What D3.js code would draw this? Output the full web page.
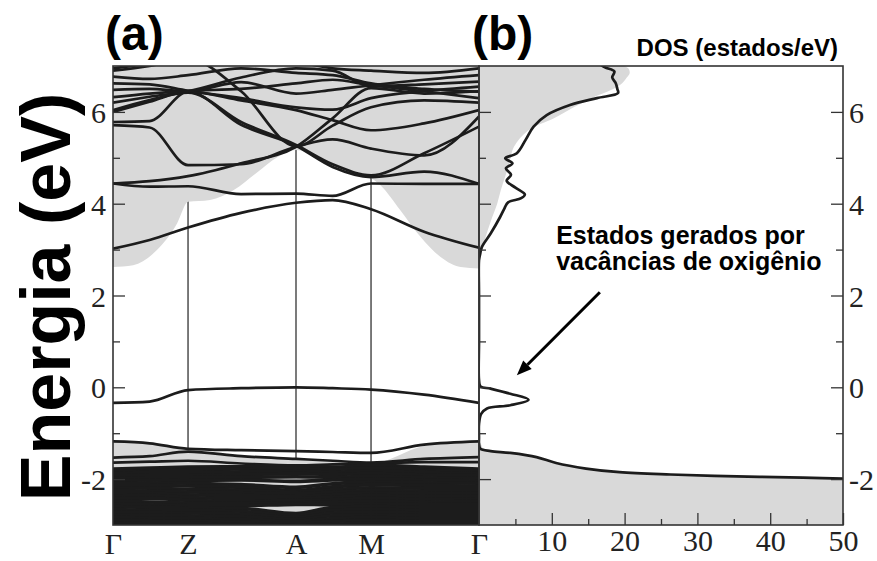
<!DOCTYPE html>
<html>
<head>
<meta charset="utf-8">
<script src="https://cdn.jsdelivr.net/npm/d3@7"></script>
<style>
  body { margin: 0; background: #fff; }
  svg { display: block; }
  .tick text { font-family: "Liberation Serif", "Times New Roman", serif; fill: #222; }
  .tick line { stroke: #333; stroke-width: 1.3; }
  .lbl { font-family: "Liberation Sans", Arial, sans-serif; font-weight: bold; fill: #000; }
</style>
</head>
<body>
<svg id="chart" width="877" height="561"></svg>
<script>
// --- band structure (a) ---
const kPoints = [0, 0.1, 0.205, 0.35, 0.5, 0.6, 0.705, 0.85, 1];
const kTicks = [0, 0.205, 0.5, 0.705, 1];
const kLabels = ["Γ", "Z", "A", "M", "Γ"];

// conduction bands, eV at kPoints
const condBands = [
  [3.02, 3.21, 3.48, 3.80, 4.02, 4.08, 3.88, 3.39, 3.04],
  [4.44, 4.37, 4.38, 4.21, 4.22, 4.17, 4.44, 4.43, 4.43],
  [4.44, 4.49, 4.60, 4.88, 5.24, 5.86, 6.52, 6.40, 6.45],
  [5.71, 5.66, 4.84, 4.86, 5.24, 5.40, 5.20, 5.05, 5.90],
  [6.00, 6.22, 6.44, 5.72, 5.26, 4.80, 4.58, 4.70, 4.43],
  [6.04, 6.26, 6.42, 5.78, 5.28, 4.86, 4.62, 5.10, 5.68],
  [5.78, 5.80, 6.44, 6.25, 6.04, 5.82, 5.60, 5.75, 6.04],
  [6.95, 7.05, 7.15, 6.45, 5.25, 5.70, 6.10, 6.25, 6.20],
  [6.20, 6.33, 6.45, 6.75, 6.95, 6.90, 6.56, 6.60, 6.66],
  [6.48, 6.50, 6.45, 6.65, 6.40, 6.48, 6.58, 6.70, 6.80],
  [6.62, 6.60, 6.46, 6.30, 6.10, 6.05, 6.30, 6.45, 6.55],
  [6.77, 6.72, 6.80, 6.95, 6.85, 6.80, 6.62, 6.50, 6.44],
  [6.90, 7.00, 7.20, 7.30, 7.10, 6.95, 6.90, 6.85, 6.95],
  [6.32, 6.40, 6.46, 6.50, 6.62, 6.70, 6.58, 6.45, 6.30]
];

// defect level in the gap
const defectBand = [-0.34, -0.31, -0.06, -0.02, 0.0, -0.02, -0.05, -0.16, -0.34];

// valence bands
const valBands = [
  [-1.18, -1.22, -1.34, -1.37, -1.39, -1.41, -1.43, -1.25, -1.18],
  [-1.53, -1.50, -1.40, -1.50, -1.56, -1.60, -1.64, -1.56, -1.52],
  [-1.64, -1.62, -1.60, -1.66, -1.70, -1.68, -1.66, -1.63, -1.63],
  [-1.78, -1.76, -1.74, -1.73, -1.72, -1.74, -1.70, -1.74, -1.78],
  [-1.83, -1.82, -1.80, -1.78, -1.77, -1.79, -1.76, -1.80, -1.83],
  [-1.88, -1.86, -1.86, -1.84, -1.82, -1.85, -1.82, -1.86, -1.88],
  [-1.93, -1.92, -1.92, -1.90, -1.88, -1.90, -1.88, -1.91, -1.93],
  [-1.98, -1.97, -1.97, -1.96, -1.95, -1.96, -1.94, -1.97, -1.98],
  [-2.04, -2.02, -2.03, -2.02, -2.05, -2.02, -2.00, -2.02, -2.04],
  [-2.09, -2.08, -2.09, -2.12, -2.18, -2.10, -2.06, -2.08, -2.09],
  [-2.14, -2.14, -2.15, -2.18, -2.25, -2.17, -2.12, -2.14, -2.15],
  [-2.19, -2.20, -2.22, -2.24, -2.28, -2.23, -2.19, -2.20, -2.20],
  [-2.25, -2.26, -2.28, -2.30, -2.32, -2.29, -2.25, -2.26, -2.26],
  [-2.31, -2.31, -2.34, -2.36, -2.37, -2.34, -2.30, -2.32, -2.31],
  [-2.37, -2.36, -2.40, -2.42, -2.42, -2.40, -2.36, -2.38, -2.37],
  [-2.43, -2.42, -2.46, -2.48, -2.47, -2.45, -2.42, -2.44, -2.43],
  [-2.48, -2.50, -2.52, -2.53, -2.52, -2.50, -2.48, -2.50, -2.49],
  [-2.54, -2.56, -2.58, -2.58, -2.55, -2.56, -2.54, -2.56, -2.55],
  [-2.60, -2.62, -2.63, -2.64, -2.75, -2.62, -2.60, -2.62, -2.62],
  [-2.66, -2.68, -2.68, -2.70, -2.80, -2.68, -2.66, -2.68, -2.68],
  [-2.72, -2.73, -2.74, -2.76, -2.84, -2.74, -2.72, -2.74, -2.74],
  [-2.78, -2.79, -2.80, -2.82, -2.88, -2.80, -2.78, -2.80, -2.80],
  [-2.84, -2.85, -2.86, -2.88, -2.92, -2.86, -2.84, -2.86, -2.86],
  [-2.90, -2.91, -2.92, -2.94, -2.96, -2.92, -2.90, -2.92, -2.92],
  [-2.96, -2.97, -2.97, -2.99, -3.00, -2.98, -2.96, -2.97, -2.97]
];

// gray projected bulk bands: lower edge of conduction, upper edge of valence
const condEdgeK = [0, 0.055, 0.12, 0.175, 0.205, 0.265, 0.33, 0.39, 0.45, 0.5, 0.6, 0.705, 0.73, 0.785, 0.84, 0.895, 0.95, 1];
const condEdgeE = [2.62, 2.66, 2.99, 3.57, 4.04, 4.08, 4.30, 4.66, 5.02, 5.17, 4.83, 4.56, 4.41, 3.86, 3.28, 2.84, 2.62, 2.59];
const valEdgeE = [-1.17, -1.22, -1.36, -1.50, -1.57, -1.62, -1.66, -1.28, -1.17];

// --- DOS (b) ---
const dosE = [7.05, 6.97, 6.88, 6.75, 6.62, 6.50, 6.41, 6.30, 6.15, 5.93, 5.68, 5.39, 5.10, 4.99, 4.88, 4.77, 4.63, 4.50, 4.35, 4.20, 4.12, 4.03, 3.90, 3.71, 3.35, 3.06, 2.90, 2.77, 2.0, 1.0, 0.16, 0.02, -0.03, -0.14, -0.27, -0.39, -0.46, -0.58, -0.80, -1.10, -1.23, -1.34, -1.39, -1.43, -1.52, -1.65, -1.77, -1.85, -1.90, -1.94, -1.97, -1.99, -2.05, -2.5, -3.05];
const dosVal = [16.5, 17.3, 18.6, 18.3, 18.8, 19.0, 19.1, 16.2, 12.5, 9.3, 7.5, 6.4, 5.2, 3.6, 4.6, 3.7, 4.4, 3.8, 5.0, 6.3, 5.8, 4.0, 3.5, 2.9, 1.6, 0.4, 0.15, 0, 0, 0, 0, 0.2, 1.6, 4.3, 6.8, 4.3, 1.1, 0.3, 0, 0, 0, 0.2, 1.6, 4.3, 7.9, 10.6, 14.7, 19.3, 26.3, 35.4, 44.5, 50, 60, 80, 80];
const bulkCondE = [7.05, 6.95, 6.85, 6.75, 6.6, 6.48, 6.3, 6.1, 5.86, 5.6, 5.24, 4.9, 4.59, 4.3, 4.0, 3.7, 3.42, 3.1, 2.85, 2.7, 2.6];
const bulkCondVal = [19.0, 20.5, 20.7, 20.3, 19.5, 18.2, 15.5, 13.0, 10.3, 6.8, 4.8, 4.2, 3.6, 3.0, 2.5, 1.8, 1.2, 0.6, 0.25, 0.05, 0];
const bulkValE = [-1.15, -1.25, -1.34, -1.39, -1.43, -1.52, -1.65, -1.77, -1.85, -1.90, -1.94, -1.97, -1.99, -2.05, -2.5, -3.05];
const bulkValVal = [0, 0.3, 0.6, 1.8, 4.4, 8.0, 10.7, 14.8, 19.4, 26.4, 35.5, 44.6, 50, 60, 80, 80];

const eMajor = [-2, 0, 2, 4, 6];
const eMinor = [-1, 1, 3, 5];
const dosMajor = [10, 20, 30, 40, 50];
const dosMinor = [5, 15, 25, 35, 45];

const svg = d3.select("#chart");
const plotTop = 66, plotBottom = 525;
const yE = d3.scaleLinear().domain([-3, 7]).range([plotBottom, plotTop]);
const kx = d3.scaleLinear().domain([0, 1]).range([113, 479]);
const dx = d3.scaleLinear().domain([0, 50]).range([479, 843]);
const gray = "#d9d9d9", ink = "#1c1c1c", frame = "#333";

const defs = svg.append("defs");
defs.append("clipPath").attr("id", "clipA").append("rect")
    .attr("x", kx(0)).attr("y", plotTop).attr("width", kx(1) - kx(0)).attr("height", plotBottom - plotTop);
defs.append("clipPath").attr("id", "clipB").append("rect")
    .attr("x", dx(0)).attr("y", plotTop).attr("width", dx(50) - dx(0)).attr("height", plotBottom - plotTop);

/* panel (a) */
const gA = svg.append("g").attr("clip-path", "url(#clipA)");

gA.selectAll("line.kline")
  .data(kTicks.slice(1, -1))
  .join("line")
    .attr("x1", d => kx(d)).attr("x2", d => kx(d))
    .attr("y1", plotTop).attr("y2", plotBottom)
    .attr("stroke", frame).attr("stroke-width", 1.3);

gA.append("path")
    .datum(condEdgeE)
    .attr("fill", gray)
    .attr("d", d3.area().x((d, i) => kx(condEdgeK[i])).y0(yE(7.2)).y1(d => yE(d)).curve(d3.curveMonotoneX));

gA.append("path")
    .datum(valEdgeE)
    .attr("fill", gray)
    .attr("d", d3.area().x((d, i) => kx(kPoints[i])).y0(yE(-3.2)).y1(d => yE(d)).curve(d3.curveMonotoneX));

const bandLine = d3.line().x((d, i) => kx(kPoints[i])).y(d => yE(d)).curve(d3.curveMonotoneX);

gA.selectAll("path.band")
  .data(condBands.concat([defectBand], valBands.slice(0, 3)))
  .join("path")
    .attr("class", "band")
    .attr("d", bandLine)
    .attr("fill", "none")
    .attr("stroke", ink)
    .attr("stroke-width", 2.7);

// the deep valence manifold is so dense it reads as nearly solid
gA.selectAll("path.deep")
  .data(valBands.slice(3))
  .join("path")
    .attr("class", "deep")
    .attr("d", bandLine)
    .attr("fill", "none")
    .attr("stroke", ink)
    .attr("stroke-width", 3.6);

/* panel (b) */
const gB = svg.append("g").attr("clip-path", "url(#clipB)");
const dosArea = (E) => d3.area()
    .y((d, i) => yE(E[i])).x0(dx(0)).x1(d => dx(d))
    .curve(d3.curveCatmullRom);

gB.append("path").datum(bulkCondVal).attr("fill", gray).attr("d", dosArea(bulkCondE));
gB.append("path").datum(bulkValVal).attr("fill", gray).attr("d", dosArea(bulkValE));

gB.append("path")
    .datum(dosVal)
    .attr("fill", "none")
    .attr("stroke", ink)
    .attr("stroke-width", 2.7)
    .attr("d", d3.line().x(d => dx(d)).y((d, i) => yE(dosE[i])).curve(d3.curveCatmullRom));

/* frames */
svg.append("rect").attr("x", kx(0)).attr("y", plotTop).attr("width", kx(1) - kx(0)).attr("height", plotBottom - plotTop)
    .attr("fill", "none").attr("stroke", frame).attr("stroke-width", 1.6);
svg.append("rect").attr("x", dx(0)).attr("y", plotTop).attr("width", dx(50) - dx(0)).attr("height", plotBottom - plotTop)
    .attr("fill", "none").attr("stroke", frame).attr("stroke-width", 1.6);

/* axes */
function addAxis(axis, tx, ty) {
  const g = svg.append("g").attr("transform", `translate(${tx},${ty})`).call(axis);
  g.select(".domain").remove();
  return g;
}
const fmt = d => String(d);

addAxis(d3.axisLeft(yE).tickValues(eMajor).tickSize(-12).tickPadding(7).tickFormat(fmt), kx(0), 0)
  .selectAll("text").attr("font-size", 30).attr("dy", "0.35em");
addAxis(d3.axisLeft(yE).tickValues(eMinor).tickSize(-7).tickFormat(""), kx(0), 0);

addAxis(d3.axisRight(yE).tickValues(eMajor).tickSize(12).tickFormat(""), dx(0), 0);
addAxis(d3.axisRight(yE).tickValues(eMinor).tickSize(7).tickFormat(""), dx(0), 0);

addAxis(d3.axisRight(yE).tickValues(eMajor).tickSize(-12).tickPadding(6).tickFormat(fmt), dx(50), 0)
  .selectAll("text").attr("font-size", 30).attr("dy", "0.35em");
addAxis(d3.axisRight(yE).tickValues(eMinor).tickSize(-7).tickFormat(""), dx(50), 0);

addAxis(d3.axisBottom(dx).tickValues(dosMajor).tickSize(-12).tickFormat(fmt), 0, plotBottom)
  .selectAll("text").attr("font-size", 30).attr("dy", null).attr("y", 26);
addAxis(d3.axisBottom(dx).tickValues(dosMinor).tickSize(-6).tickFormat(""), 0, plotBottom);

addAxis(d3.axisBottom(kx).tickValues(kTicks).tickSize(0).tickFormat((d, i) => kLabels[i]), 0, plotBottom)
  .selectAll("text").attr("font-size", 30).attr("dy", null).attr("y", 29);

/* labels */
svg.append("text").attr("class", "lbl").attr("x", 105).attr("y", 50).attr("font-size", 48).text("(a)");
svg.append("text").attr("class", "lbl").attr("x", 472).attr("y", 50).attr("font-size", 48).text("(b)");
svg.append("text").attr("class", "lbl").attr("x", 838).attr("y", 56).attr("font-size", 24)
    .attr("text-anchor", "end").text("DOS (estados/eV)");
svg.append("text").attr("class", "lbl").attr("font-size", 70).attr("text-anchor", "middle")
    .attr("transform", "translate(70,297) rotate(-90)").text("Energia (eV)");

const note = svg.append("text").attr("class", "lbl").attr("font-size", 25);
note.append("tspan").attr("x", dx(10.6)).attr("y", yE(3.13)).text("Estados gerados por");
note.append("tspan").attr("x", dx(10.6)).attr("y", yE(2.55)).text("vacâncias de oxigênio");

// arrow pointing at the defect peak
const tail = [dx(16.6), yE(2.07)], tip = [dx(5.2), yE(0.26)];
const ang = Math.atan2(tip[1] - tail[1], tip[0] - tail[0]);
const headLen = 15, headW = 6;
const base = [tip[0] - headLen * Math.cos(ang), tip[1] - headLen * Math.sin(ang)];
svg.append("line")
    .attr("x1", tail[0]).attr("y1", tail[1]).attr("x2", base[0]).attr("y2", base[1])
    .attr("stroke", "#000").attr("stroke-width", 3);
svg.append("path")
    .attr("fill", "#000")
    .attr("d", d3.line()([
      tip,
      [base[0] + headW * Math.sin(ang), base[1] - headW * Math.cos(ang)],
      [base[0] - headW * Math.sin(ang), base[1] + headW * Math.cos(ang)]
    ]) + "Z");
</script>
</body>
</html>
